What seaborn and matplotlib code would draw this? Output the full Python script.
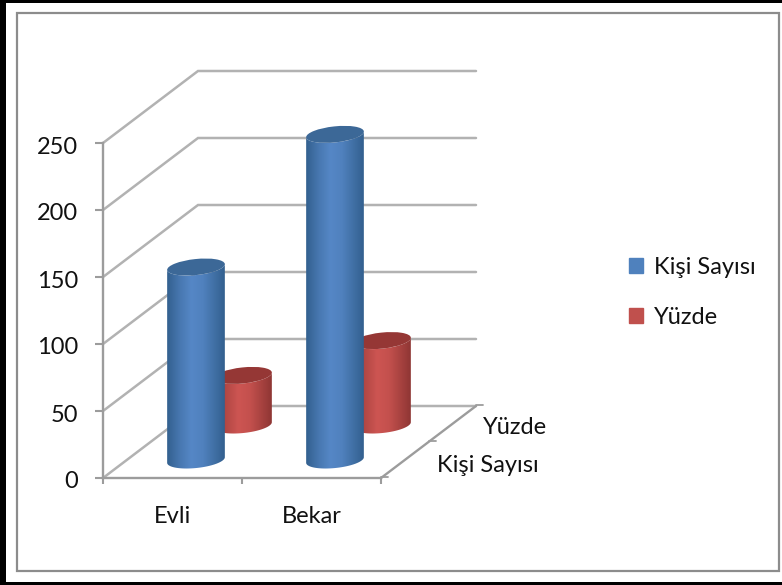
import numpy as np
import pandas as pd
import matplotlib
matplotlib.use("Agg")
import matplotlib.pyplot as plt
import seaborn as sns
from matplotlib.colors import LinearSegmentedColormap
from matplotlib.patches import Ellipse, Patch, PathPatch, Rectangle
from matplotlib.path import Path
from matplotlib.transforms import Affine2D, IdentityTransform, ScaledTranslation

categories = ["Evli", "Bekar"]
kisi_sayisi = [144, 243]
yuzde = [37, 63]
series_names = ["Kişi Sayısı", "Yüzde"]
y_ticks = [0, 50, 100, 150, 200, 250]

W, H = 782, 585
FONT = "Lato"
FS = 17.0
TEXT = "#111111"
GRID = "#b2b2b2"
AXIS = "#9c9c9c"

sns.set_theme(style="white")
plt.rcParams["font.family"] = [FONT, "DejaVu Sans"]
fig = plt.figure(figsize=(W / 100, H / 100), dpi=100, facecolor="white")


def add_px_axes(left, right, top, bottom, zorder):
    a = fig.add_axes([left / W, 1 - bottom / H, (right - left) / W, (bottom - top) / H], zorder=zorder)
    a.patch.set_alpha(0)
    return a


# picture frame
bg = add_px_axes(0, W, 0, H, 0)
bg.set_xlim(0, W)
bg.set_ylim(H, 0)
bg.axis("off")
bg.add_patch(Rectangle((0, 0), 6, H, color="black", lw=0))
bg.add_patch(Rectangle((0, 0), W, 2.5, color="black", lw=0))
bg.add_patch(Rectangle((0, 582), W, 3, color="black", lw=0))
bg.add_patch(Rectangle((17, 13), 762, 558, fill=False, ec="#8c8c8c", lw=1.6))

# wall axes: value scale and categories
PX_PER_UNIT = 335 / 250
CAT_W = 139
DEPTH_X, DEPTH_Y = 95, 72
wall = add_px_axes(103, 103 + 2 * CAT_W, 143, 478, 1)
wall.set_xlim(0, 2)
wall.set_ylim(0, 250)
sns.despine(ax=wall)
for s in ("left", "bottom"):
    wall.spines[s].set_color(AXIS)
    wall.spines[s].set_linewidth(1.7)
wall.set_yticks(y_ticks)
wall.set_yticklabels([str(v) for v in y_ticks], fontsize=FS, color=TEXT, family=FONT)
wall.set_xticks([0, 1, 2])
wall.set_xticklabels([])
wall.set_xticks([0.5, 1.5], minor=True)
wall.set_xticklabels(categories, minor=True, fontsize=FS, color=TEXT, family=FONT)
wall.tick_params(axis="y", length=5.5, width=1.5, color=AXIS, left=True, pad=12.5)
wall.tick_params(axis="x", which="major", length=4, width=1.5, color=AXIS, bottom=True)
wall.tick_params(axis="x", which="minor", length=0, bottom=False, pad=20)
shift = ScaledTranslation(0, -0.02, fig.dpi_scale_trans)
for lab in wall.get_yticklabels():
    lab.set_transform(lab.get_transform() + shift)

dx = DEPTH_X / CAT_W
dy = DEPTH_Y / PX_PER_UNIT
for v in y_ticks:
    wall.plot([0, dx, 2 + dx], [v, v + dy, v + dy], color=GRID, lw=1.8, clip_on=False, zorder=0,
              solid_joinstyle="miter")
wall.plot([2, 2 + dx], [0, dy], color=AXIS, lw=1.7, clip_on=False, zorder=0)
tick_dx = 7 / CAT_W
for f in (0, 0.5, 1):
    wall.plot([2 + dx * f, 2 + dx * f + tick_dx], [dy * f + 0.5, dy * f + 0.5], color=AXIS, lw=1.3,
              clip_on=False, zorder=0)
wall.text(437, 465, series_names[0], transform=bg.transData, fontsize=FS, color=TEXT, va="center", ha="left")
wall.text(483, 428, series_names[1], transform=bg.transData, fontsize=FS, color=TEXT, va="center", ha="left")

ELL_W, ELL_H, ELL_ANGLE = 58, 16, 6


def lower_arc(px, py):
    """Lower half of the tilted ellipse, left to right, in display pixels."""
    t = np.linspace(np.pi, 2 * np.pi, 40)
    pts = np.c_[ELL_W / 2 * np.cos(t), ELL_H / 2 * np.sin(t)]
    return Affine2D().rotate_deg(ELL_ANGLE).translate(px, py).transform(pts)


def cylinder_layer(values, name, left, base, center, edge, topc, zorder):
    """One depth row of cylinders: seaborn bars on their own value axes."""
    ymin, ymax = -20, 260
    ax = add_px_axes(left, left + 2 * CAT_W, base - ymax * PX_PER_UNIT, base - ymin * PX_PER_UNIT, zorder)
    df = pd.DataFrame({"Durum": categories, name: values})
    sns.barplot(data=df, x="Durum", y=name, ax=ax, width=ELL_W / CAT_W, color=center, saturation=1, zorder=1)
    ax.set_xlim(-0.5, 1.5)
    ax.set_ylim(ymin, ymax)
    ax.axis("off")
    grad = np.array([np.interp(np.linspace(0, 1, 128), [0, 0.22, 0.42, 0.62, 1], [0.0, 0.6, 1.0, 0.85, 0.0])])
    cmap = LinearSegmentedColormap.from_list("c", [edge, center])
    fig.canvas.draw()
    for bar, val in zip(ax.patches, values):
        x0, x1 = bar.get_x(), bar.get_x() + bar.get_width()
        bar.set_facecolor("none")
        bar.set_edgecolor("none")
        xc = (x0 + x1) / 2
        bx, by = ax.transData.transform((xc, 0))
        tx, ty = ax.transData.transform((xc, val))
        outline = np.r_[lower_arc(bx, by), lower_arc(tx, ty)[::-1]]
        body = PathPatch(Path(np.r_[outline, outline[:1]], closed=True), transform=IdentityTransform(),
                         facecolor="none", edgecolor="none")
        ax.add_patch(body)
        im = ax.imshow(grad, extent=(x0, x1, -10 / PX_PER_UNIT, val + 10 / PX_PER_UNIT), cmap=cmap,
                       aspect="auto", zorder=2, vmin=0, vmax=1, interpolation="bilinear")
        im.set_clip_path(body)
        ax.add_patch(Ellipse((0, 0), ELL_W, ELL_H, angle=ELL_ANGLE, transform=Affine2D().translate(tx, ty),
                             facecolor=topc, edgecolor="none", zorder=3))
    ax.set_xlim(-0.5, 1.5)
    ax.set_ylim(ymin, ymax)
    return ax


cylinder_layer(yuzde, series_names[1], 173.5, 425, "#cd5552", "#8f3634", "#953735", 2)
cylinder_layer(kisi_sayisi, series_names[0], 126.5, 460, "#5587c6", "#33608f", "#3c6897", 3)

handles = [Patch(color="#4f81bd", label=series_names[0]), Patch(color="#c0504d", label=series_names[1])]
fig.legend(handles=handles, loc="center left", bbox_to_anchor=(629 / W, 1 - 292.5 / H), frameon=False,
           fontsize=FS, labelcolor=TEXT, handlelength=0.6, handleheight=0.6, handletextpad=0.45,
           labelspacing=1.25, borderpad=0, borderaxespad=0)

fig.savefig("out.png", dpi=100)
